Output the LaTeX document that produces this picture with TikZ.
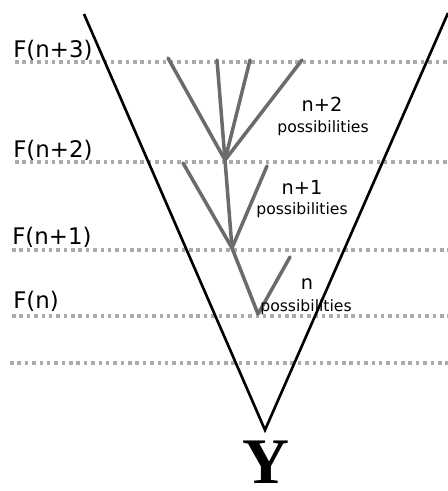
\documentclass[tikz,border=0pt]{standalone}
\usepackage{fontspec}
\setmainfont{DejaVu Sans}
\newfontfamily\yfont{Liberation Serif}

\tikzset{
  dotline/.style={draw=black!33, line width=1.9pt, dash pattern=on 2pt off 2.2pt},
  branch/.style={draw=black!58, line width=2pt, line cap=round},
  cone/.style={draw=black, line width=1.5pt},
  fname/.style={anchor=base west, inner sep=0pt, font=\fontsize{13}{15}\selectfont},
  count/.style={anchor=base, inner sep=0pt, font=\fontsize{11}{13}\selectfont},
  poss/.style={anchor=base, inner sep=0pt, font=\fontsize{8.9}{10}\selectfont}
}

\begin{document}
\begin{tikzpicture}[x=0.02cm, y=-0.02cm]
\useasboundingbox (0,0) rectangle (448,491);
% Dotted levels
\foreach \y/\x in {62/15, 162/15, 250/12, 316/12, 363/10}
  \draw[dotline] (\x,\y) -- (448,\y);
% Level names
\node[fname] (f3) at (13,57) {F(n+3)};
\node[fname] (f2) at (13,157) {F(n+2)};
\node[fname] (f1) at (12,244) {F(n+1)};
\node[fname] (f0) at (13,308) {F(n)};
% The cone
\coordinate (tip) at (265,430);
\coordinate (ltop) at (84,14);
\coordinate (rtop) at (448,13);
\draw[cone] (ltop) -- (tip) -- (rtop);
% Tree of possibilities
\coordinate (a) at (258,314);
\coordinate (b) at (232,248);
\coordinate (c) at (225,160);
\coordinate (a1) at (290,257);
\coordinate (b1) at (183,163);
\coordinate (b2) at (267,166);
\coordinate (c1) at (168,58);
\coordinate (c2) at (217,60);
\coordinate (c3) at (250,60);
\coordinate (c4) at (302,60);
\draw[branch] (a) -- (b) -- (c);
\draw[branch] (a) -- (a1);
\foreach \t in {b1,b2}
  \draw[branch] (b) -- (\t);
\foreach \t in {c1,c2,c3,c4}
  \draw[branch] (c) -- (\t);
% Counts
\node[count] (n2) at (322,111) {n+2};
\node[poss] (p2) at (323,132) {possibilities};
\node[count] (n1) at (302,194) {n+1};
\node[poss] (p1) at (302,214) {possibilities};
\node[count] (n0) at (307,289) {n};
\node[poss] (p0) at (306,311) {possibilities};
% Bottom letter
\node[anchor=base, inner sep=0pt, font=\yfont\bfseries\fontsize{37}{40}\selectfont] (y) at (266,483) {Y};
\end{tikzpicture}
\end{document}
